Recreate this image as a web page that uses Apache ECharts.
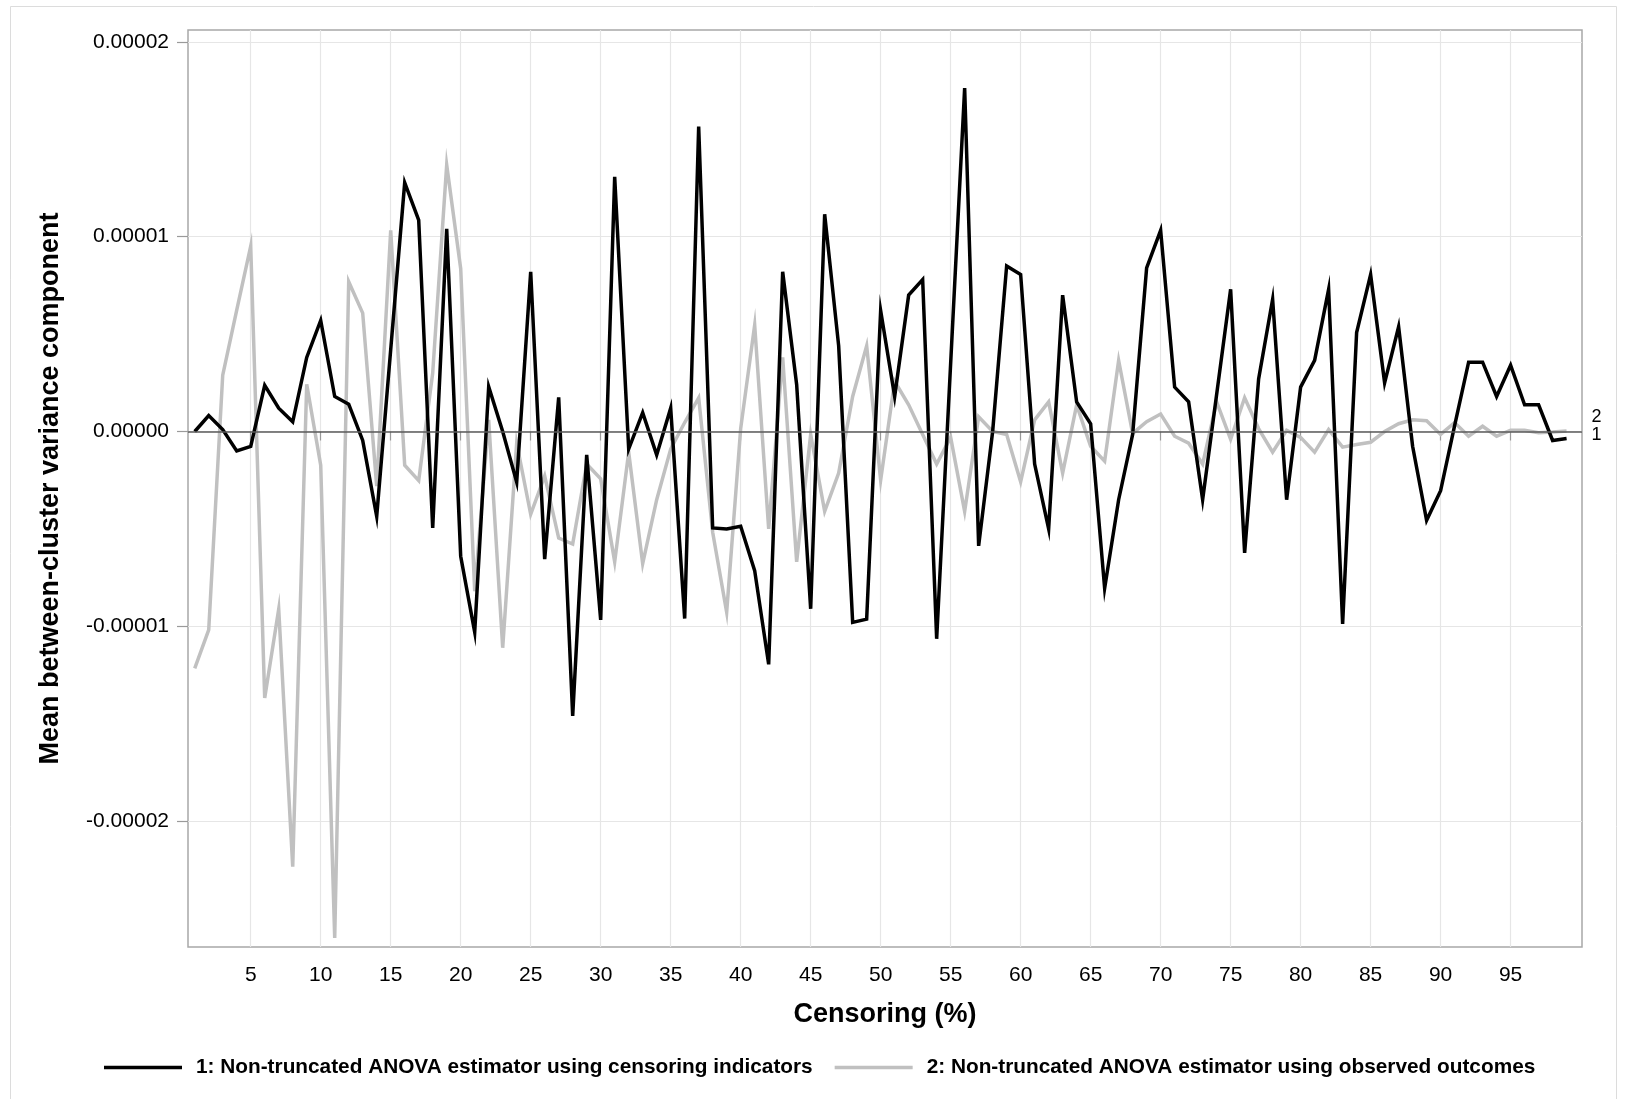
<!DOCTYPE html>
<html>
<head>
<meta charset="utf-8">
<script src="https://cdn.jsdelivr.net/npm/echarts@6/dist/echarts.min.js"></script>
<style>
html,body{margin:0;padding:0;background:#fff;}
#chart{width:1625px;height:1099px;}
</style>
</head>
<body>
<div id="chart"></div>
<script>
// Censoring (%) categories
const censoring = [1,2,3,4,5,6,7,8,9,10,11,12,13,14,15,16,17,18,19,20,21,22,23,24,25,26,27,28,29,30,31,32,33,34,35,36,37,38,39,40,41,42,43,44,45,46,47,48,49,50,51,52,53,54,55,56,57,58,59,60,61,62,63,64,65,66,67,68,69,70,71,72,73,74,75,76,77,78,79,80,81,82,83,84,85,86,87,88,89,90,91,92,93,94,95,96,97,98,99];

// Values in units of 1e-5
const series1 = [0,0.082,0.01,-0.10,-0.076,0.237,0.12,0.05,0.38,0.57,
  0.18,0.14,-0.046,-0.435,0.42,1.277,1.085,-0.495,1.04,-0.64,
  -1.03,0.23,0.0,-0.26,0.82,-0.655,0.175,-1.46,-0.12,-0.967,
  1.307,-0.09,0.097,-0.12,0.12,-0.96,1.565,-0.495,-0.50,-0.486,
  -0.714,-1.195,0.82,0.24,-0.91,1.115,0.44,-0.98,-0.963,0.62,
  0.18,0.70,0.78,-1.064,0.35,1.763,-0.587,0.0,0.85,0.806,
  -0.167,-0.50,0.70,0.152,0.04,-0.805,-0.35,-0.015,0.84,1.033,
  0.228,0.152,-0.35,0.19,0.73,-0.623,0.27,0.678,-0.35,0.228,
  0.365,0.73,-0.988,0.508,0.805,0.25,0.538,-0.076,-0.456,-0.304,
  0.03,0.356,0.356,0.18,0.34,0.137,0.137,-0.046,-0.036];

const series2 = [-1.216,-1.018,0.289,0.623,0.951,-1.368,-0.912,-2.234,0.243,-0.173,
  -2.599,0.769,0.608,-0.28,1.033,-0.173,-0.252,0.30,1.368,0.836,
  -0.82,0.06,-1.11,-0.06,-0.425,-0.228,-0.547,-0.578,-0.167,-0.243,
  -0.669,-0.106,-0.678,-0.35,-0.09,0.046,0.173,-0.517,-0.927,0.015,
  0.547,-0.50,0.38,-0.669,-0.015,-0.41,-0.213,0.18,0.44,-0.25,
  0.258,0.137,-0.015,-0.167,-0.03,-0.41,0.076,0.0,-0.015,-0.258,
  0.06,0.152,-0.213,0.137,-0.076,-0.152,0.365,-0.01,0.05,0.09,
  -0.024,-0.06,-0.167,0.152,-0.04,0.173,0.015,-0.106,0.006,-0.03,
  -0.106,0.01,-0.08,-0.067,-0.055,0.0,0.04,0.06,0.055,-0.015,
  0.046,-0.024,0.027,-0.024,0.006,0.006,-0.006,-0.003,0.003];

const xTicks = [5,10,15,20,25,30,35,40,45,50,55,60,65,70,75,80,85,90,95];
const yTicks = [-2,-1,0,1,2];
const seriesNames = ['1: Non-truncated ANOVA estimator using censoring indicators',
                     '2: Non-truncated ANOVA estimator using observed outcomes'];

const FONT = '"Liberation Sans", Arial, Helvetica, sans-serif';
const chart = echarts.init(document.getElementById('chart'), null, {renderer:'canvas'});

const pairs = arr => censoring.map((c, i) => [c, arr[i]]);

chart.setOption({
  backgroundColor: '#ffffff',
  animation: false,
  graphic: [{
    type: 'rect', silent: true, z: -10,
    shape: {x: 10.5, y: 6.5, width: 1606, height: 1110},
    style: {fill: 'none', stroke: '#dcdcdc', lineWidth: 1}
  }],
  grid: {left: 188, top: 30, right: 43, bottom: 152, show: true,
         borderColor: '#a8a8a8', borderWidth: 1.5, backgroundColor: 'transparent'},
  legend: {
    left: 104, top: 1057, padding: 0, itemWidth: 78, itemHeight: 3.5, itemGap: 22,
    icon: 'rect',
    data: seriesNames,
    textStyle: {fontFamily: FONT, fontSize: 20.8, fontWeight: 'bold', color: '#000', padding: [0,0,0,9]}
  },
  xAxis: {
    type: 'value', min: 0.52, max: 100.1,
    name: 'Censoring (%)', nameLocation: 'middle', nameGap: 54,
    nameTextStyle: {fontFamily: FONT, fontSize: 27, fontWeight: 'bold', color: '#000'},
    axisLine: {show: false},
    axisTick: {show: true, length: 9, customValues: xTicks, lineStyle: {color: '#9a9a9a', width: 1.2}},
    axisLabel: {customValues: xTicks, margin: 18, fontFamily: FONT, fontSize: 21, color: '#000'},
    splitLine: {show: true, lineStyle: {color: '#e6e6e6', width: 1.2}}
  },
  yAxis: {
    type: 'value', min: -2.646, max: 2.061,
    name: 'Mean between-cluster variance component', nameLocation: 'middle', nameGap: 124,
    nameTextStyle: {fontFamily: FONT, fontSize: 27, fontWeight: 'bold', color: '#000'},
    axisLine: {show: false},
    axisTick: {show: true, length: 11, customValues: yTicks, lineStyle: {color: '#9a9a9a', width: 1.2}},
    axisLabel: {customValues: yTicks, margin: 19, fontFamily: FONT, fontSize: 21, color: '#000',
                formatter: v => (v * 1e-5).toFixed(5)},
    splitLine: {show: true, lineStyle: {color: '#e6e6e6', width: 1.2}}
  },
  series: [
    {
      name: seriesNames[1], type: 'line', data: pairs(series2), z: 2,
      showSymbol: false, symbol: 'none', smooth: false,
      lineStyle: {color: '#c0c0c0', width: 3.5, join: 'miter'},
      itemStyle: {color: '#c0c0c0'},
      endLabel: {show: true, formatter: '2', distance: 25, offset: [0, -14],
                 fontFamily: FONT, fontSize: 18, color: '#000'}
    },
    {
      name: seriesNames[0], type: 'line', data: pairs(series1), z: 3,
      showSymbol: false, symbol: 'none', smooth: false,
      lineStyle: {color: '#000000', width: 3.5, join: 'miter'},
      itemStyle: {color: '#000000'},
      endLabel: {show: true, formatter: '1', distance: 25, offset: [0, -3],
                 fontFamily: FONT, fontSize: 18, color: '#000'},
      markLine: {silent: true, symbol: 'none', label: {show: false},
                 lineStyle: {color: '#5a5a5a', width: 1.5, type: 'solid'},
                 data: [{yAxis: 0}]}
    }
  ]
});
</script>
</body>
</html>
